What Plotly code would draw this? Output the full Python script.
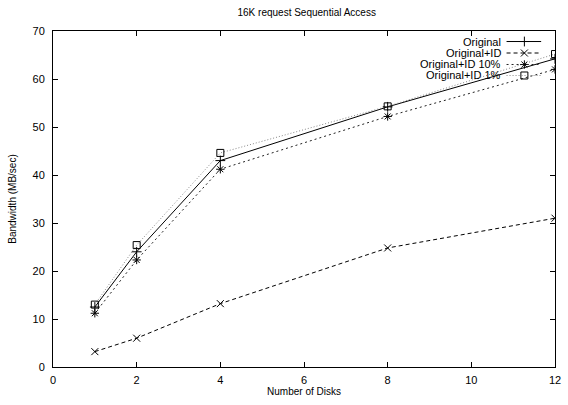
import plotly.graph_objects as go

disks = [1, 2, 4, 8, 12]
original = [12.5, 24.0, 43.0, 54.2, 64.2]
original_id = [3.2, 6.0, 13.2, 24.8, 31.0]
original_id_10 = [11.2, 22.3, 41.2, 52.2, 62.0]
original_id_1 = [13.0, 25.4, 44.6, 54.3, 65.2]

series_names = ["Original", "Original+ID", "Original+ID 10%", "Original+ID 1%"]
series_vals = [original, original_id, original_id_10, original_id_1]
styles = [
    dict(color="black", dash="solid", symbol="cross-thin-open", size=7),
    dict(color="black", dash="4px,3px", symbol="x-thin-open", size=7),
    dict(color="#222222", dash="2px,3px", symbol="asterisk-open", size=7),
    dict(color="#888888", dash="1px,2px", symbol="square-open", size=7),
]

fig = go.Figure()
for name, vals, st in zip(series_names, series_vals, styles):
    fig.add_trace(go.Scatter(
        x=disks, y=vals, mode="lines+markers", name=name, showlegend=False,
        line=dict(color=st["color"], dash=st["dash"], width=1),
        marker=dict(symbol=st["symbol"], size=st["size"], color="black",
                    line=dict(color="black", width=1)),
    ))

# manual gnuplot-style legend (text right-aligned, sample to the right)
row_y = [0.9687, 0.9345, 0.9003, 0.8676]
x_text = 0.896
x0, x1, xm = 0.9035, 0.9724, 0.939
for name, st, yy in zip(series_names, styles, row_y):
    fig.add_annotation(x=x_text, y=yy, xref="paper", yref="paper", text=name,
                       showarrow=False, xanchor="right", yanchor="middle",
                       font=dict(size=11, color="black"))
    fig.add_shape(type="line", xref="paper", yref="paper", x0=x0, x1=x1, y0=yy, y1=yy,
                  line=dict(color=st["color"], dash=st["dash"], width=1))
    fig.add_trace(go.Scatter(
        x=[xm], y=[yy], xaxis="x2", yaxis="y2", mode="markers", showlegend=False,
        marker=dict(symbol=st["symbol"], size=st["size"], color="black",
                    line=dict(color="black", width=1)),
        hoverinfo="skip",
    ))

axis_common = dict(
    showgrid=False, zeroline=False, ticks="inside", ticklen=5, tickwidth=1,
    tickcolor="black", showline=True, linecolor="black", linewidth=1, mirror="ticks",
    tickfont=dict(size=11, color="black"),
)

fig.update_layout(
    width=568, height=405,
    margin=dict(l=53, r=7, t=31, b=38),
    paper_bgcolor="white", plot_bgcolor="white",
    font=dict(family="Liberation Sans, Arial, sans-serif", color="black"),
    title=dict(text="16K request Sequential Access", x=0.54, xanchor="center",
               y=0.97, yanchor="middle", font=dict(size=10)),
    xaxis=dict(range=[0, 12], dtick=2, ticklabelstandoff=3,
               title=dict(text="Number of Disks", font=dict(size=10), standoff=2),
               **axis_common),
    yaxis=dict(range=[0, 70], dtick=10, ticklabelstandoff=5,
               title=dict(text="Bandwidth (MB/sec)", font=dict(size=10), standoff=14),
               **axis_common),
    xaxis2=dict(range=[0, 1], overlaying="x", visible=False),
    yaxis2=dict(range=[0, 1], overlaying="y", visible=False),
)

fig.write_html("out.html", config={"displayModeBar": False},
               post_script="document.body.style.margin='0';document.body.style.overflow='hidden';")
